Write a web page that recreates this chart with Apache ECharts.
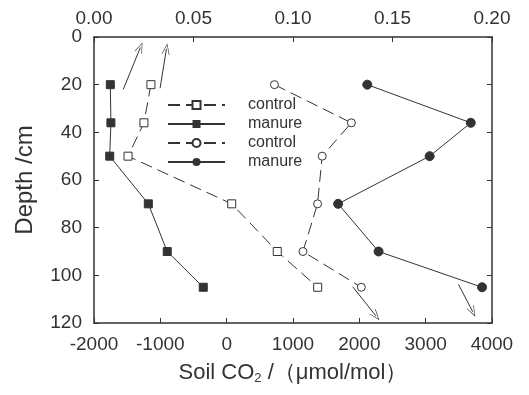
<!DOCTYPE html>
<html>
<head>
<meta charset="utf-8">
<title>Soil CO2 profile</title>
<script src="https://cdn.jsdelivr.net/npm/echarts@6/dist/echarts.min.js"></script>
<style>
  html, body { margin: 0; padding: 0; background: #fff; }
</style>
</head>
<body>
<div id="main" style="width: 529px;height:395px;"></div>
<script type="text/javascript">
    // depths (cm)
    const depth = [20, 36, 50, 70, 90, 105];
    // squares -> top axis
    const controlSq = [0.0286, 0.0251, 0.0171, 0.0692, 0.0921, 0.1124];
    const manureSq = [0.0082, 0.0085, 0.0079, 0.0273, 0.0368, 0.0549];
    // circles -> bottom axis
    const controlCi = [720, 1880, 1440, 1370, 1150, 2030];
    const manureCi = [2120, 3680, 3060, 1680, 2290, 3850];
    const topTicks = [0, 0.05, 0.10, 0.15, 0.20];
    const bottomTicks = [-2000, -1000, 0, 1000, 2000, 3000, 4000];
    // arrows [x1, y1, x2, y2]
    const topArrows = [[0.0147, 22, 0.0233, 4.4], [0.0332, 21.5, 0.0364, 5]];
    const bottomArrows = [[1900, 104.8, 2250, 117], [3495, 103.8, 3710, 115.3]];

    const ink = '#333';
    const dash = [12, 6];

    function pairs(xs) {
        return xs.map(function (v, i) { return [v, depth[i]]; });
    }
    function arrowLines(list) {
        return list.map(function (a) {
            return [{coord: [a[0], a[1]]}, {coord: [a[2], a[3]]}];
        });
    }
    const arrowHead = 'path://M0,0 L6,12 L5,12 L0,2 L-5,12 L-6,12 Z';

    const myChart = echarts.init(document.getElementById('main'));
    const option = {
        animation: false,
        grid: {left: 94, right: 37, top: 37, bottom: 72},
        legend: {
            orient: 'vertical',
            left: 162,
            top: 92,
            itemWidth: 57,
            itemHeight: 10,
            itemGap: 3,
            selectedMode: false,
            formatter: function (name) { return name.trim(); },
            textStyle: {fontSize: 16, color: ink, padding: [0, 0, 0, 18], fontFamily: 'Liberation Sans'}
        },
        xAxis: [{
            type: 'value',
            position: 'bottom',
            min: bottomTicks[0],
            max: bottomTicks[bottomTicks.length - 1],
            interval: 1000,
            name: 'Soil CO{sub|2} /（μmol/mol）',
            nameLocation: 'middle',
            nameGap: 37,
            nameTextStyle: {
                fontSize: 22, color: ink, fontFamily: 'Liberation Sans',
                rich: {sub: {fontSize: 13, verticalAlign: 'bottom', padding: [12, 0, 0, 0], color: ink}}
            },
            axisLine: {show: true, onZero: false, lineStyle: {color: ink, width: 1.5}},
            axisTick: {show: true, inside: true, length: 5, lineStyle: {color: ink}},
            axisLabel: {
                fontSize: 19, color: ink, margin: 12, fontFamily: 'Liberation Sans',
                formatter: function (v) { return String(v); }
            },
            splitLine: {show: false}
        }, {
            type: 'value',
            position: 'top',
            min: topTicks[0],
            max: topTicks[topTicks.length - 1],
            interval: 0.05,
            axisLine: {show: true, onZero: false, lineStyle: {color: ink, width: 1.5}},
            axisTick: {show: true, inside: true, length: 5, lineStyle: {color: ink}},
            axisLabel: {
                fontSize: 19, color: ink, margin: 9, fontFamily: 'Liberation Sans',
                formatter: function (v) { return v.toFixed(2); }
            },
            splitLine: {show: false}
        }],
        yAxis: [{
            type: 'value',
            inverse: true,
            min: 0,
            max: 120,
            interval: 20,
            name: 'Depth /cm',
            nameLocation: 'middle',
            nameGap: 57,
            nameTextStyle: {fontSize: 24, color: ink, fontFamily: 'Liberation Sans'},
            axisLine: {show: true, onZero: false, lineStyle: {color: ink, width: 1.5}},
            axisTick: {show: true, inside: true, length: 5, lineStyle: {color: ink}},
            axisLabel: {fontSize: 19, color: ink, margin: 12, fontFamily: 'Liberation Sans'},
            splitLine: {show: false}
        }, {
            type: 'value',
            position: 'right',
            inverse: true,
            min: 0,
            max: 120,
            interval: 20,
            axisLine: {show: true, onZero: false, lineStyle: {color: ink, width: 1.5}},
            axisTick: {show: true, inside: true, length: 5, lineStyle: {color: ink}},
            axisLabel: {show: false},
            splitLine: {show: false}
        }],
        series: [
            {
                name: 'control',
                type: 'line',
                xAxisIndex: 1,
                data: pairs(controlSq),
                symbol: 'rect',
                symbolSize: 8,
                itemStyle: {color: '#fff', borderColor: ink, borderWidth: 1},
                lineStyle: {color: ink, width: 1, type: dash},
                markLine: {
                    silent: true,
                    symbol: ['none', arrowHead],
                    symbolSize: [8, 11],
                    label: {show: false},
                    lineStyle: {color: ink, width: 1, type: 'solid'},
                    data: arrowLines(topArrows)
                }
            },
            {
                name: 'manure',
                type: 'line',
                xAxisIndex: 1,
                data: pairs(manureSq),
                symbol: 'rect',
                symbolSize: 8,
                itemStyle: {color: ink, borderColor: ink},
                lineStyle: {color: ink, width: 1}
            },
            {
                name: 'control ',
                type: 'line',
                xAxisIndex: 0,
                data: pairs(controlCi),
                symbol: 'circle',
                symbolSize: 8,
                itemStyle: {color: '#fff', borderColor: ink, borderWidth: 1},
                lineStyle: {color: ink, width: 1, type: dash},
                markLine: {
                    silent: true,
                    symbol: ['none', arrowHead],
                    symbolSize: [8, 11],
                    label: {show: false},
                    lineStyle: {color: ink, width: 1, type: 'solid'},
                    data: arrowLines(bottomArrows)
                }
            },
            {
                name: 'manure ',
                type: 'line',
                xAxisIndex: 0,
                data: pairs(manureCi),
                symbol: 'circle',
                symbolSize: 9,
                itemStyle: {color: ink, borderColor: ink},
                lineStyle: {color: ink, width: 1}
            }
        ]
    };
    myChart.setOption(option);
</script>
</body>
</html>
